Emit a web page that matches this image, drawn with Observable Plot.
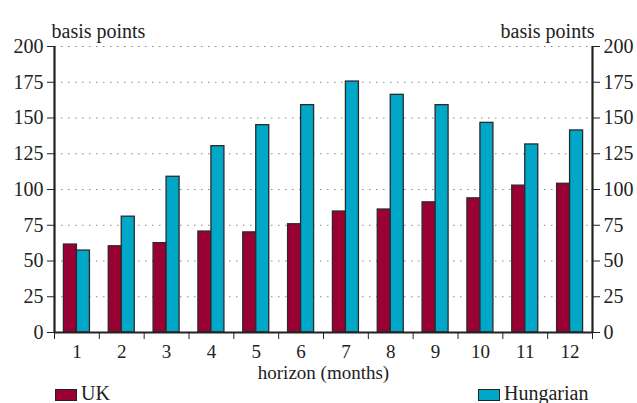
<!DOCTYPE html>
<html>
<head>
<meta charset="utf-8">
<script src="https://cdn.jsdelivr.net/npm/d3@7"></script>
<script src="https://cdn.jsdelivr.net/npm/@observablehq/plot@0.6"></script>
<style>
  body { margin: 0; background: #fff; }
  #wrap { position: relative; width: 637px; height: 403px; overflow: hidden; font-family: "Liberation Serif", "Times New Roman", serif; color: #222; }
  #legend { position: relative; height: 20px; font-size: 20px; line-height: 16px; }
  .item { position: absolute; top: 2px; display: flex; align-items: flex-start; }
  .sw { width: 20px; height: 10px; border: 1px solid #222; margin-top: 4px; margin-right: 4px; }
</style>
</head>
<body>
<div id="wrap"></div>
<script>
const horizons = [1, 2, 3, 4, 5, 6, 7, 8, 9, 10, 11, 12];
const ukValues = [61.5, 60.3, 62.5, 70.6, 70, 75.7, 84.6, 86, 91, 93.8, 102.7, 104];
const hungarianValues = [57.3, 81, 108.9, 130.3, 145, 159, 175.5, 166.2, 159, 146.6, 131.5, 141.3];
const seriesNames = ["UK", "Hungarian"];
const seriesColors = ["#990033", "#00a7c8"];
const yTicks = [0, 25, 50, 75, 100, 125, 150, 175, 200];
const gridTicks = [25, 50, 75, 100, 125, 150, 175, 200];
const yLabel = "basis points";
const xLabel = "horizon (months)";

const data = [];
horizons.forEach((h, i) => {
  data.push({horizon: h, series: "UK", value: ukValues[i]});
  data.push({horizon: h, series: "Hungarian", value: hungarianValues[i]});
});

const barW = 0.29;
const xDomain = [horizons[0] - 0.5, horizons[horizons.length - 1] + 0.5];
const boundaries = horizons.map(h => h - 0.5).concat([xDomain[1]]);
const FS = 20;
const FSX = 19;

const chart = Plot.plot({
  width: 637,
  height: 383,
  marginLeft: 54,
  marginRight: 45,
  marginTop: 46,
  marginBottom: 51,
  style: {fontFamily: '"Liberation Serif", "Times New Roman", serif', fontSize: FS + "px", color: "#222", background: "#fff"},
  x: {domain: xDomain},
  y: {domain: [0, 200]},
  color: {domain: seriesNames, range: seriesColors},
  marks: [
    Plot.ruleY(gridTicks, {stroke: "#888", strokeDasharray: "1.5,5.5", strokeWidth: 1}),
    Plot.rectY(data, {
      x1: d => d.series === "UK" ? d.horizon - barW : d.horizon,
      x2: d => d.series === "UK" ? d.horizon : d.horizon + barW,
      y1: 0,
      y2: "value",
      fill: "series",
      stroke: "#2a2a2a",
      strokeWidth: 1.3
    }),
    Plot.ruleX(xDomain, {y1: 0, y2: 200, stroke: "#222", strokeWidth: 2.2}),
    Plot.ruleY([0], {stroke: "#222", strokeWidth: 2.2}),
    Plot.axisY({anchor: "left", ticks: yTicks, tickSize: 7, tickPadding: 4, label: null, stroke: "#222", fill: "#222", fontSize: FS}),
    Plot.axisY({anchor: "right", ticks: yTicks, tickSize: 7, tickPadding: 4, label: null, stroke: "#222", fill: "#222", fontSize: FS}),
    Plot.axisX({ticks: horizons, tickSize: 0, tickPadding: 12, label: null, fill: "#222", fontSize: FSX}),
    Plot.axisX({ticks: boundaries, tickSize: 7, tickFormat: () => "", label: null, stroke: "#222"}),
    Plot.text([xLabel], {frameAnchor: "bottom", dy: 46, fill: "#222", fontSize: FSX}),
    Plot.text([yLabel], {frameAnchor: "top-left", textAnchor: "start", dx: -3, dy: -23, fill: "#222", fontSize: FS}),
    Plot.text([yLabel], {frameAnchor: "top-right", textAnchor: "end", dx: 2, dy: -23, fill: "#222", fontSize: FS})
  ]
});

const wrap = document.getElementById("wrap");
wrap.appendChild(chart);
const legend = document.createElement("div");
legend.id = "legend";
const lefts = [55, 478];
seriesNames.forEach((s, i) => {
  const item = document.createElement("div");
  item.className = "item";
  item.style.left = lefts[i] + "px";
  const sw = document.createElement("div");
  sw.className = "sw";
  sw.style.background = seriesColors[i];
  const t = document.createElement("span");
  t.textContent = s;
  item.appendChild(sw);
  item.appendChild(t);
  legend.appendChild(item);
});
wrap.appendChild(legend);
</script>
</body>
</html>
